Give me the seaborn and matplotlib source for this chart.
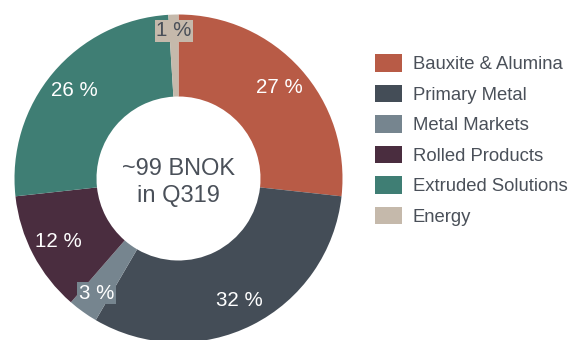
import numpy as np
import matplotlib
matplotlib.use("Agg")
import matplotlib.pyplot as plt
import seaborn as sns

# Revenue split by business area
segments = ["Bauxite & Alumina", "Primary Metal", "Metal Markets",
            "Rolled Products", "Extruded Solutions", "Energy"]
shares = [27, 32, 3, 12, 26, 1]
colors = ["#B85B46", "#444D57", "#76858F", "#4A2D3F", "#3F7E74", "#C5B9AB"]
center_text = "~99 BNOK\nin Q319"

sns.set_theme(style="white")
plt.rcParams["font.family"] = ["Liberation Sans", "DejaVu Sans"]
text_dark = "#4A5059"

W, H = 570, 340
fig = plt.figure(figsize=(W / 100, H / 100), dpi=100)
cx, cy, R = 178.5, 178.5, 164.0
ax = fig.add_axes([(cx - R) / W, (H - cy - R) / H, 2 * R / W, 2 * R / H])

wedges, _ = ax.pie(shares, colors=colors, startangle=90, counterclock=False,
                   radius=1.0, wedgeprops=dict(width=0.5, linewidth=0))
ax.set_xlim(-1, 1)
ax.set_ylim(-1, 1)
ax.set_aspect("equal")
ax.axis("off")
for w in wedges:
    w.set_clip_on(False)

# value labels inside the ring; tiny slices get a boxed label
label_r = {2: 0.86, 5: 0.90}
for i, (w, v) in enumerate(zip(wedges, shares)):
    ang = np.deg2rad((w.theta1 + w.theta2) / 2)
    r = label_r.get(i, 0.83)
    x, y = r * np.cos(ang), r * np.sin(ang)
    kw = {}
    tc = "white"
    if i in label_r:
        kw["bbox"] = dict(boxstyle="square,pad=0.08", fc=colors[i], ec="none")
        if i == 5:
            tc = text_dark
    ax.text(x, y, f"{v} %", ha="center", va="center", fontsize=14.8,
            color=tc, **kw)

ax.text(0, -0.025, center_text, ha="center", va="center", fontsize=17,
        color=text_dark, linespacing=1.25)

leg = fig.legend(wedges, segments, loc="upper left",
                 bbox_to_anchor=(368 / W, 1 - 47 / H), frameon=False,
                 fontsize=13.3, handlelength=1.46, handleheight=1.08,
                 handletextpad=0.55, labelspacing=0.62, borderaxespad=0)
for t in leg.get_texts():
    t.set_color(text_dark)

fig.savefig("out.png", dpi=100)
